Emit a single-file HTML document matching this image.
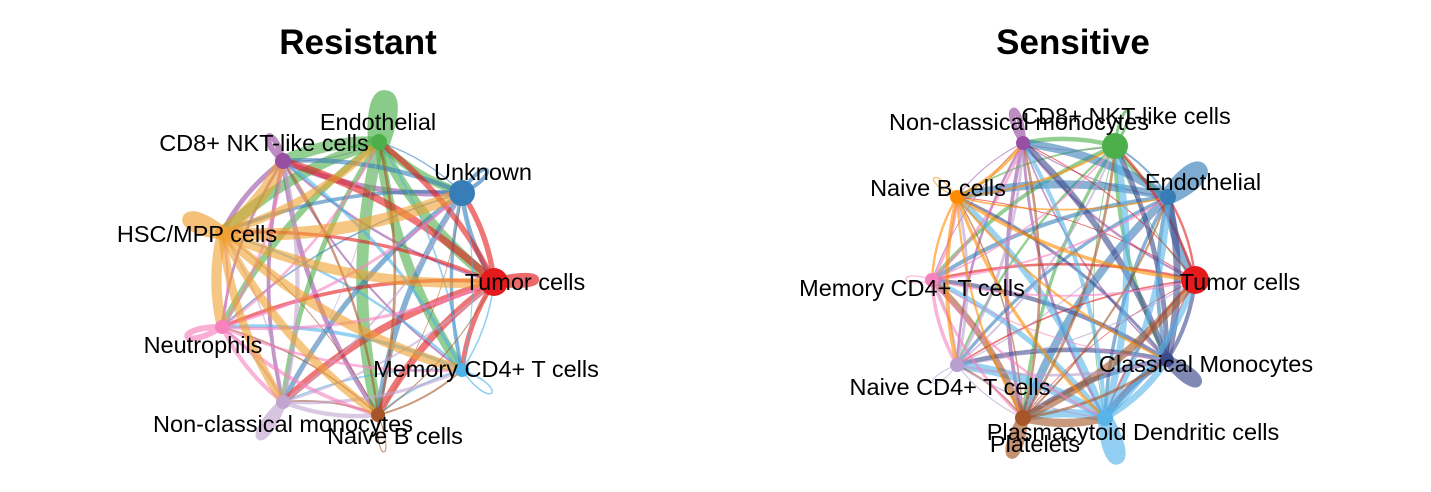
<!DOCTYPE html>
<html><head><meta charset="utf-8"><style>
html,body{margin:0;padding:0;background:#fff}
svg{display:block}
text{font-family:"Liberation Sans",sans-serif;fill:#000}
</style></head><body>
<svg id="s" width="1431" height="492" viewBox="0 0 1431 492" xmlns="http://www.w3.org/2000/svg">
<rect width="1431" height="492" fill="#fff"/>
<g id="edges"></g>
<g id="nodes"></g>
<g font-size="23.5" text-anchor="middle">
<text x="358" y="54" font-size="35" font-weight="bold">Resistant</text>
<text x="1073" y="54" font-size="35" font-weight="bold">Sensitive</text>
<text x="378" y="130">Endothelial</text>
<text x="264" y="151">CD8+ NKT-like cells</text>
<text x="483" y="180">Unknown</text>
<text x="197" y="242">HSC/MPP cells</text>
<text x="525" y="290">Tumor cells</text>
<text x="203" y="353">Neutrophils</text>
<text x="486" y="377">Memory CD4+ T cells</text>
<text x="283" y="432">Non-classical monocytes</text>
<text x="395" y="444">Naive B cells</text>
<text x="1019" y="130">Non-classical monocytes</text>
<text x="1126" y="124">CD8+ NKT-like cells</text>
<text x="1203" y="190">Endothelial</text>
<text x="938" y="196">Naive B cells</text>
<text x="1240" y="290">Tumor cells</text>
<text x="912" y="296">Memory CD4+ T cells</text>
<text x="1206" y="372">Classical Monocytes</text>
<text x="950" y="395">Naive CD4+ T cells</text>
<text x="1133" y="440">Plasmacytoid Dendritic cells</text>
<text x="1035" y="452">Platelets</text>
</g>
</svg>
<script>
(function(){
var NS="http://www.w3.org/2000/svg";
var E=document.getElementById("edges"),N=document.getElementById("nodes");
function el(t,a,p){var e=document.createElementNS(NS,t);for(var k in a)e.setAttribute(k,a[k]);p.appendChild(e);return e;}
var seed=7;function rnd(){seed=(seed*16807)%2147483647;return seed/2147483647;}
function draw(nodes,cx,cy){
  nodes.forEach(function(n){
    if(n.lw>0){
      var dx=n.x-cx,dy=n.y-cy,l=Math.sqrt(dx*dx+dy*dy);dx/=l;dy/=l;
      var L=n.ll||28,w=n.lwid||12;
      var px=-dy,py=dx;
      var ex=n.x+dx*L,ey=n.y+dy*L;
      el("path",{d:"M"+n.x+","+n.y+" C"+(ex+px*w)+","+(ey+py*w)+" "+(ex-px*w)+","+(ey-py*w)+" "+n.x+","+n.y,
        fill:"none",stroke:n.c,"stroke-width":n.lw,"stroke-opacity":0.65},E);
    }
  });
  for(var i=0;i<nodes.length;i++)for(var j=0;j<nodes.length;j++){
    if(i==j)continue;var a=nodes[i],b=nodes[j];
    var w=a.w*(0.25+rnd()*1.3);
    if(w<0.8)w=0.8;
    var mx=(a.x+b.x)/2,my=(a.y+b.y)/2,dx=b.x-a.x,dy=b.y-a.y;
    var k=0.12;
    var qx=mx-dy*k,qy=my+dx*k;
    el("path",{d:"M"+a.x+","+a.y+" Q"+qx+","+qy+" "+b.x+","+b.y,fill:"none",stroke:a.c,"stroke-width":w.toFixed(1),"stroke-opacity":0.6},E);
  }
  nodes.forEach(function(n){el("circle",{cx:n.x,cy:n.y,r:n.r,fill:n.c},N);});
}
draw([
 {x:283,y:161,r:8,c:"#984ea3",w:4,lw:6,ll:38},
 {x:379,y:142,r:8,c:"#4daf4a",w:9,lw:22,ll:55,lwid:12},
 {x:462,y:193,r:13,c:"#377eb8",w:4,lw:4,ll:45,lwid:14},
 {x:494,y:282,r:14,c:"#e41a1c",w:5,lw:8,ll:55,lwid:12},
 {x:462,y:370,r:7,c:"#4fb3e8",w:2.5,lw:1.5,ll:50,lwid:16},
 {x:378,y:415,r:7,c:"#a65628",w:2,lw:1,ll:50,lwid:12},
 {x:283,y:402,r:7,c:"#c2a5cf",w:3,lw:8,ll:55,lwid:12},
 {x:222,y:327,r:7,c:"#f781bf",w:4,lw:6,ll:48,lwid:14},
 {x:222,y:233,r:7,c:"#f0a030",w:9,lw:13,ll:48,lwid:14}
],358,290);
seed=31;
draw([
 {x:1023,y:143,r:7,c:"#984ea3",w:3,lw:6,ll:45},
 {x:1115,y:146,r:13,c:"#4daf4a",w:3,lw:3,ll:50,lwid:12},
 {x:1168,y:197,r:8,c:"#377eb8",w:6,lw:16,ll:55,lwid:16},
 {x:1195,y:280,r:14,c:"#e41a1c",w:2,lw:0},
 {x:1167,y:360,r:7,c:"#3c4a8c",w:6,lw:9,ll:50,lwid:14},
 {x:1105,y:418,r:8,c:"#56b4e9",w:7,lw:14,ll:55,lwid:14},
 {x:1023,y:418,r:8,c:"#a65628",w:6,lw:10,ll:50,lwid:12},
 {x:957,y:365,r:7,c:"#b79fcf",w:2,lw:1,ll:40},
 {x:932,y:280,r:7,c:"#f781bf",w:2.5,lw:1,ll:35},
 {x:957,y:197,r:7,c:"#ff8c00",w:2.5,lw:1,ll:40}
],1065,285);
})();
</script>
</body></html>
